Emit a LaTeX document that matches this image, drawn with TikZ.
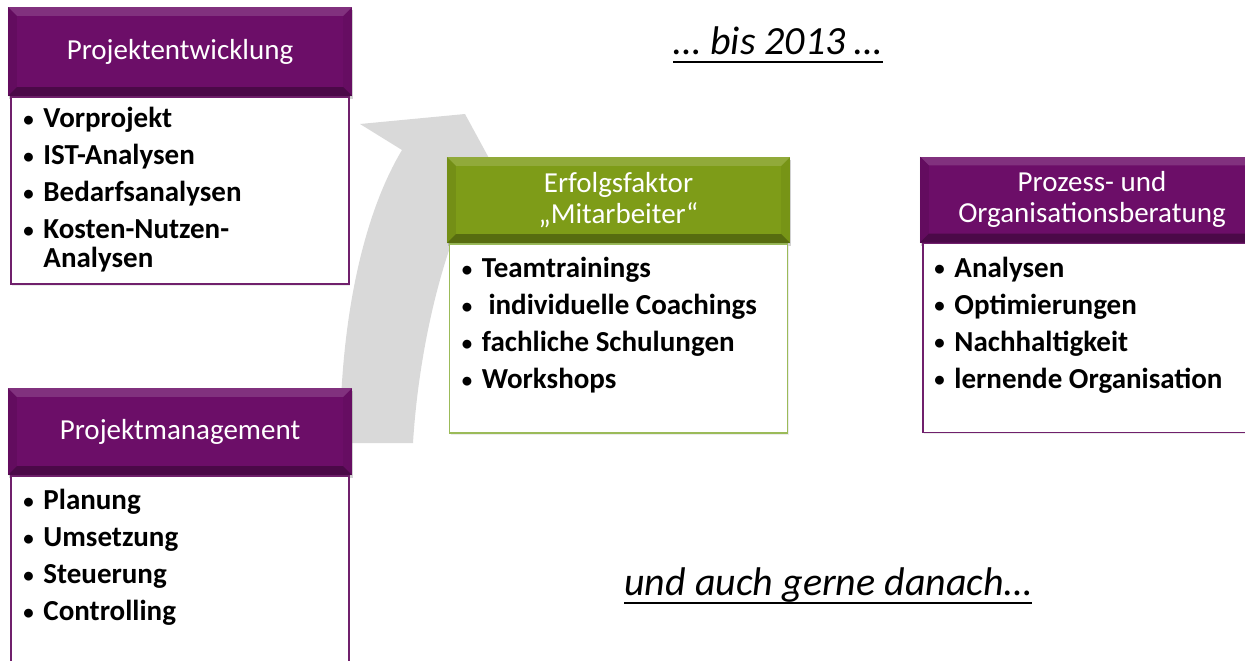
\documentclass[tikz,border=0pt]{standalone}
\usepackage{fontspec}
\setmainfont{Carlito}
\usetikzlibrary{positioning, shadows}

\definecolor{headpurple}{RGB}{108,14,104}
\definecolor{linepurple}{RGB}{112,32,108}
\definecolor{headgreen}{RGB}{126,156,24}
\definecolor{linegreen}{RGB}{155,187,89}
\definecolor{arrowgray}{RGB}{217,217,217}

% bevelled edges of a header box
\newcommand{\bevel}[1]{%
    \fill[white, opacity=.15] (#1.north west) -- (#1.north east) -- ([shift={(-9pt,-9pt)}]#1.north east) -- ([shift={(9pt,-9pt)}]#1.north west) -- cycle;
    \fill[black, opacity=.08] (#1.north west) -- ([shift={(9pt,-9pt)}]#1.north west) -- ([shift={(9pt,9pt)}]#1.south west) -- (#1.south west) -- cycle;
    \fill[black, opacity=.05] (#1.north east) -- ([shift={(-9pt,-9pt)}]#1.north east) -- ([shift={(-9pt,9pt)}]#1.south east) -- (#1.south east) -- cycle;
    \fill[black, opacity=.3] (#1.south west) -- ([shift={(9pt,9pt)}]#1.south west) -- ([shift={(-9pt,9pt)}]#1.south east) -- (#1.south east) -- cycle;
}
\newcommand{\itm}[1]{\makebox[21pt][l]{\hspace{1pt}\raisebox{1.5pt}{\scalebox{.72}{•}}}#1}

\begin{document}
\begin{tikzpicture}[x=1pt, y=-1pt,
        head/.style={fill=#1, text=white, minimum width=344pt, inner sep=0pt, align=center,
            font=\fontsize{29}{31}\selectfont,
            drop shadow={shadow xshift=1pt, shadow yshift=-3pt, opacity=.35}},
        body/.style={draw=#1, line width=1.5pt, fill=white, minimum width=338pt, inner sep=0pt,
            drop shadow={shadow xshift=1pt, shadow yshift=-2pt, opacity=.15}},
        liste/.style={anchor=north west, inner sep=0pt, align=left,
            font=\fontsize{29}{37}\selectfont\bfseries},
        motto/.style={anchor=base, inner sep=0pt, font=\fontsize{40}{42}\selectfont\itshape}]
    \useasboundingbox (0,0) rectangle (1245,661);

    \fill[arrowgray] (340,443) .. controls (340,330) and (360,220) .. (402,150) -- (360,124) -- (465,114)
        -- (490,160) .. controls (440,240) and (418,360) .. (413,443) -- cycle;

    \node[head=headpurple, minimum height=89pt] (entw) at (180,51.5) {Projektentwicklung};
    \node[body=linepurple, minimum height=187pt, below=0pt of entw] (entwbody) {};
    \bevel{entw}
    \node[liste] (entwliste) at ([shift={(12pt,-11pt)}]entwbody.north west)
        {\itm{Vorprojekt}\\ \itm{IST-Analysen}\\ \itm{Bedarfsanalysen}\\ \itm{Kosten-Nutzen-}\\[-8pt] \hspace*{21pt}Analysen};

    \node[head=headpurple, minimum height=87pt] (mgmt) at (180,431.5) {Projektmanagement};
    \node[body=linepurple, minimum height=200pt, below=0pt of mgmt] (mgmtbody) {};
    \bevel{mgmt}
    \node[liste] (mgmtliste) at ([shift={(12pt,-14pt)}]mgmtbody.north west)
        {\itm{Planung}\\ \itm{Umsetzung}\\ \itm{Steuerung}\\ \itm{Controlling}};

    \node[head=headgreen, minimum width=343pt, minimum height=86pt] (erfolg) at (618.5,200) {Erfolgsfaktor\\„Mitarbeiter“};
    \node[body=linegreen, minimum height=189pt, below=0pt of erfolg] (erfolgbody) {};
    \bevel{erfolg}
    \node[liste] (erfolgliste) at ([shift={(12pt,-14pt)}]erfolgbody.north west)
        {\itm{Teamtrainings}\\ \itm{\ individuelle Coachings}\\ \itm{fachliche Schulungen}\\ \itm{Workshops}};

    \node[head=headpurple, minimum height=86pt] (prozess) at (1092,199.5) {Prozess- und\\Organisationsberatung};
    \node[body=linepurple, minimum height=189pt, below=0pt of prozess] (prozessbody) {};
    \bevel{prozess}
    \node[liste] (prozessliste) at ([shift={(11pt,-14pt)}]prozessbody.north west)
        {\itm{Analysen}\\ \itm{Optimierungen}\\ \itm{Nachhaltigkeit}\\ \itm{lernende Organisation}};

    \node[motto] (bis) at (778,55) {… bis 2013 …};
    \draw[line width=2.6pt] ([yshift=-7pt]bis.base west) -- ([yshift=-7pt]bis.base east);
    \node[motto] (danach) at (828,595) {und auch gerne danach…};
    \draw[line width=2.6pt] ([yshift=-8pt]danach.base west) -- ([yshift=-8pt]danach.base east);
\end{tikzpicture}
\end{document}
